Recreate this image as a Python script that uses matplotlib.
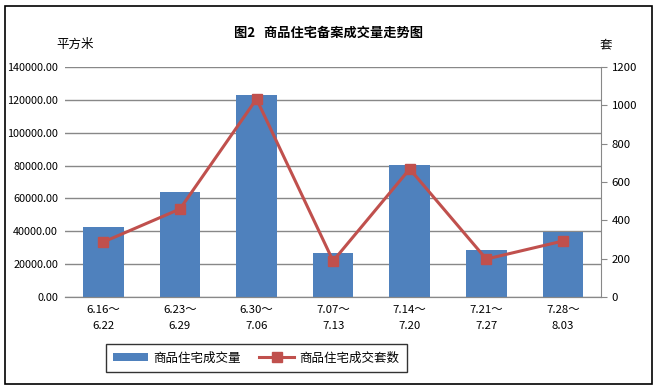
import matplotlib
matplotlib.use("Agg")
import matplotlib.pyplot as plt
from matplotlib.patches import Rectangle

plt.rcParams['font.family'] = ['Noto Sans CJK SC', 'DejaVu Sans']

# 数据
weeks = ["6.16～\n6.22", "6.23～\n6.29", "6.30～\n7.06", "7.07～\n7.13",
         "7.14～\n7.20", "7.21～\n7.27", "7.28～\n8.03"]
area = [42600, 63900, 123000, 26800, 80300, 28600, 39600]      # 平方米
units = [287, 459, 1033, 188, 668, 198, 292]                    # 套

fig = plt.figure(figsize=(6.57, 3.89), dpi=100)
ax = fig.add_axes([0.099, 0.2365, 0.816, 0.5913])
ax2 = ax.twinx()

x = list(range(len(weeks)))
bars = ax.bar(x, area, width=0.53, color='#4F81BD', label='商品住宅成交量', zorder=2)
line, = ax2.plot(x, units, color='#C0504D', linewidth=2.2, marker='s', markersize=7,
                 label='商品住宅成交套数', zorder=3)

ax.set_xlim(-0.5, len(weeks) - 0.5)
ax.set_ylim(0, 140000)
ax.set_yticks(range(0, 140001, 20000))
ax.set_yticklabels([f"{v:.2f}" for v in range(0, 140001, 20000)], fontsize=7.8)
ax2.set_ylim(0, 1200)
ax2.set_yticks(range(0, 1201, 200))
ax2.tick_params(axis='y', labelsize=8.2, length=4, color='#888888')
ax.tick_params(axis='y', length=0, pad=5)
ax.set_xticks(x)
ax.set_xticklabels(weeks, fontsize=8.2, linespacing=1.7)
ax.tick_params(axis='x', length=0, pad=6)

ax.grid(axis='y', color='#888888', linewidth=1, zorder=0)
ax.set_axisbelow(True)
for a in (ax, ax2):
    for s in ('top', 'left'):
        a.spines[s].set_visible(False)
    a.spines['right'].set_visible(False)
    a.spines['bottom'].set_color('#888888')
ax2.spines['right'].set_visible(True)
ax2.spines['right'].set_color('#888888')

ax.set_zorder(1)
ax.patch.set_visible(False)
ax2.set_zorder(2)

fig.text(0.5, 0.915, "图2   商品住宅备案成交量走势图", ha='center', va='center',
         fontsize=9.5, fontweight='bold')
fig.text(0.115, 0.885, "平方米", ha='center', va='center', fontsize=9)
fig.text(0.922, 0.885, "套", ha='center', va='center', fontsize=9)

leg = fig.legend([bars, line], ['商品住宅成交量', '商品住宅成交套数'], loc='center',
                 bbox_to_anchor=(0.39, 0.08), ncol=2, fontsize=9, frameon=True,
                 fancybox=False, edgecolor='black', columnspacing=1.5,
                 handlelength=2.8, handletextpad=0.4, borderpad=0.6)
leg.get_frame().set_linewidth(1)

fig.patches.append(Rectangle((0.008, 0.012), 0.984, 0.972, transform=fig.transFigure,
                             fill=False, edgecolor='black', linewidth=1.2))

fig.savefig("out.png", dpi=100)
